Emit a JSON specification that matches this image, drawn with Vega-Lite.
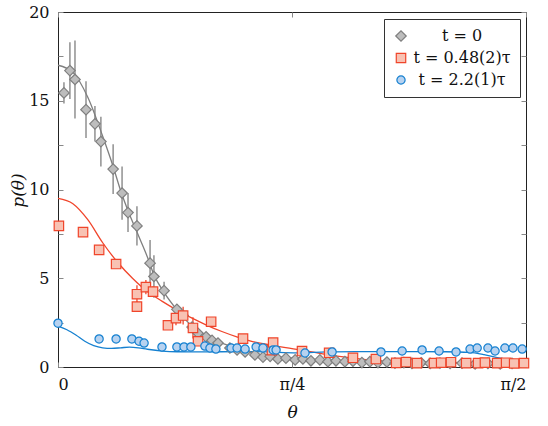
{
  "$schema": "https://vega.github.io/schema/vega-lite/v6.json",
  "width": 468,
  "height": 355,
  "autosize": {"type": "none"},
  "padding": {"left": 58, "top": 12, "right": 22, "bottom": 59},
  "background": "white",
  "config": {
    "view": {"stroke": "#222", "strokeWidth": 1},
    "font": "DejaVu Serif",
    "axis": {
      "domain": false,
      "grid": false,
      "tickColor": "#888",
      "tickWidth": 1,
      "labelFont": "DejaVu Serif",
      "labelFontSize": 16,
      "labelColor": "#111",
      "titleFont": "DejaVu Serif",
      "titleFontSize": 17,
      "titleFontWeight": "normal",
      "titleFontStyle": "italic",
      "titleColor": "#111"
    },
    "legend": {
      "labelFont": "DejaVu Serif",
      "labelFontSize": 16
    }
  },
  "datasets": {
    "pts": [
      {"s": "t = 0", "th": 0.020, "p": 15.44, "e": 0.6},
      {"s": "t = 0", "th": 0.040, "p": 16.7, "e": 1.6},
      {"s": "t = 0", "th": 0.057, "p": 16.2, "e": 2.2},
      {"s": "t = 0", "th": 0.094, "p": 14.5, "e": 1.6},
      {"s": "t = 0", "th": 0.124, "p": 13.7, "e": 1.0},
      {"s": "t = 0", "th": 0.144, "p": 12.7, "e": 1.4},
      {"s": "t = 0", "th": 0.185, "p": 11.15, "e": 1.4},
      {"s": "t = 0", "th": 0.215, "p": 9.8, "e": 1.5},
      {"s": "t = 0", "th": 0.235, "p": 8.7, "e": 1.1},
      {"s": "t = 0", "th": 0.265, "p": 7.95, "e": 1.1},
      {"s": "t = 0", "th": 0.309, "p": 5.85, "e": 1.3},
      {"s": "t = 0", "th": 0.322, "p": 5.1, "e": 1.2},
      {"s": "t = 0", "th": 0.356, "p": 4.3, "e": 0.5},
      {"s": "t = 0", "th": 0.399, "p": 3.25, "e": 0.3},
      {"s": "t = 0", "th": 0.420, "p": 2.9, "e": 0.2},
      {"s": "t = 0", "th": 0.450, "p": 2.25, "e": 0.2},
      {"s": "t = 0", "th": 0.470, "p": 1.9, "e": 0.15},
      {"s": "t = 0", "th": 0.497, "p": 1.7, "e": 0},
      {"s": "t = 0", "th": 0.517, "p": 1.5, "e": 0},
      {"s": "t = 0", "th": 0.537, "p": 1.35, "e": 0},
      {"s": "t = 0", "th": 0.577, "p": 1.07, "e": 0},
      {"s": "t = 0", "th": 0.601, "p": 0.96, "e": 0},
      {"s": "t = 0", "th": 0.628, "p": 0.85, "e": 0},
      {"s": "t = 0", "th": 0.661, "p": 0.68, "e": 0},
      {"s": "t = 0", "th": 0.688, "p": 0.56, "e": 0},
      {"s": "t = 0", "th": 0.712, "p": 0.6, "e": 0},
      {"s": "t = 0", "th": 0.738, "p": 0.45, "e": 0},
      {"s": "t = 0", "th": 0.765, "p": 0.5, "e": 0},
      {"s": "t = 0", "th": 0.796, "p": 0.4, "e": 0},
      {"s": "t = 0", "th": 0.822, "p": 0.45, "e": 0},
      {"s": "t = 0", "th": 0.849, "p": 0.35, "e": 0},
      {"s": "t = 0", "th": 0.879, "p": 0.4, "e": 0},
      {"s": "t = 0", "th": 0.906, "p": 0.3, "e": 0},
      {"s": "t = 0", "th": 0.933, "p": 0.35, "e": 0},
      {"s": "t = 0", "th": 0.963, "p": 0.3, "e": 0},
      {"s": "t = 0", "th": 0.990, "p": 0.33, "e": 0},
      {"s": "t = 0", "th": 1.020, "p": 0.25, "e": 0},
      {"s": "t = 0", "th": 1.047, "p": 0.3, "e": 0},
      {"s": "t = 0", "th": 1.074, "p": 0.25, "e": 0},
      {"s": "t = 0", "th": 1.104, "p": 0.28, "e": 0},
      {"s": "t = 0", "th": 1.131, "p": 0.22, "e": 0},
      {"s": "t = 0", "th": 1.161, "p": 0.25, "e": 0},
      {"s": "t = 0", "th": 1.188, "p": 0.2, "e": 0},
      {"s": "t = 0", "th": 1.219, "p": 0.24, "e": 0},
      {"s": "t = 0", "th": 1.249, "p": 0.2, "e": 0},
      {"s": "t = 0", "th": 1.282, "p": 0.22, "e": 0},
      {"s": "t = 0", "th": 1.316, "p": 0.2, "e": 0},
      {"s": "t = 0", "th": 1.356, "p": 0.22, "e": 0},
      {"s": "t = 0", "th": 1.400, "p": 0.18, "e": 0},
      {"s": "t = 0", "th": 1.443, "p": 0.2, "e": 0},
      {"s": "t = 0", "th": 1.484, "p": 0.18, "e": 0},
      {"s": "t = 0", "th": 1.524, "p": 0.2, "e": 0},

      {"s": "t = 0.48(2)τ", "th": 0.003, "p": 7.95, "e": 0},
      {"s": "t = 0.48(2)τ", "th": 0.084, "p": 7.6, "e": 0},
      {"s": "t = 0.48(2)τ", "th": 0.138, "p": 6.6, "e": 0},
      {"s": "t = 0.48(2)τ", "th": 0.195, "p": 5.8, "e": 0},
      {"s": "t = 0.48(2)τ", "th": 0.265, "p": 4.1, "e": 0.5},
      {"s": "t = 0.48(2)τ", "th": 0.265, "p": 3.4, "e": 0.3},
      {"s": "t = 0.48(2)τ", "th": 0.295, "p": 4.5, "e": 0.4},
      {"s": "t = 0.48(2)τ", "th": 0.319, "p": 4.25, "e": 0.3},
      {"s": "t = 0.48(2)τ", "th": 0.369, "p": 2.35, "e": 0.2},
      {"s": "t = 0.48(2)τ", "th": 0.396, "p": 2.75, "e": 0.4},
      {"s": "t = 0.48(2)τ", "th": 0.420, "p": 2.9, "e": 0.5},
      {"s": "t = 0.48(2)τ", "th": 0.453, "p": 2.2, "e": 0.6},
      {"s": "t = 0.48(2)τ", "th": 0.470, "p": 1.45, "e": 0.2},
      {"s": "t = 0.48(2)τ", "th": 0.514, "p": 2.55, "e": 0.2},
      {"s": "t = 0.48(2)τ", "th": 0.621, "p": 1.6, "e": 0.2},
      {"s": "t = 0.48(2)τ", "th": 0.718, "p": 0.95, "e": 0},
      {"s": "t = 0.48(2)τ", "th": 0.722, "p": 1.38, "e": 0.2},
      {"s": "t = 0.48(2)τ", "th": 0.819, "p": 0.9, "e": 0},
      {"s": "t = 0.48(2)τ", "th": 0.910, "p": 0.8, "e": 0},
      {"s": "t = 0.48(2)τ", "th": 0.990, "p": 0.52, "e": 0},
      {"s": "t = 0.48(2)τ", "th": 1.067, "p": 0.45, "e": 0},
      {"s": "t = 0.48(2)τ", "th": 1.135, "p": 0.23, "e": 0},
      {"s": "t = 0.48(2)τ", "th": 1.168, "p": 0.28, "e": 0},
      {"s": "t = 0.48(2)τ", "th": 1.205, "p": 0.22, "e": 0},
      {"s": "t = 0.48(2)τ", "th": 1.262, "p": 0.22, "e": 0},
      {"s": "t = 0.48(2)τ", "th": 1.286, "p": 0.24, "e": 0},
      {"s": "t = 0.48(2)τ", "th": 1.319, "p": 0.27, "e": 0},
      {"s": "t = 0.48(2)τ", "th": 1.370, "p": 0.22, "e": 0},
      {"s": "t = 0.48(2)τ", "th": 1.410, "p": 0.22, "e": 0},
      {"s": "t = 0.48(2)τ", "th": 1.433, "p": 0.25, "e": 0},
      {"s": "t = 0.48(2)τ", "th": 1.474, "p": 0.22, "e": 0},
      {"s": "t = 0.48(2)τ", "th": 1.504, "p": 0.24, "e": 0},
      {"s": "t = 0.48(2)τ", "th": 1.531, "p": 0.2, "e": 0},
      {"s": "t = 0.48(2)τ", "th": 1.564, "p": 0.22, "e": 0},

      {"s": "t = 2.2(1)τ", "th": 0.0, "p": 2.47, "e": 0},
      {"s": "t = 2.2(1)τ", "th": 0.138, "p": 1.58, "e": 0},
      {"s": "t = 2.2(1)τ", "th": 0.195, "p": 1.58, "e": 0},
      {"s": "t = 2.2(1)τ", "th": 0.248, "p": 1.58, "e": 0},
      {"s": "t = 2.2(1)τ", "th": 0.272, "p": 1.45, "e": 0},
      {"s": "t = 2.2(1)τ", "th": 0.289, "p": 1.35, "e": 0},
      {"s": "t = 2.2(1)τ", "th": 0.349, "p": 1.13, "e": 0},
      {"s": "t = 2.2(1)τ", "th": 0.399, "p": 1.13, "e": 0},
      {"s": "t = 2.2(1)τ", "th": 0.423, "p": 1.13, "e": 0},
      {"s": "t = 2.2(1)τ", "th": 0.446, "p": 1.13, "e": 0},
      {"s": "t = 2.2(1)τ", "th": 0.493, "p": 1.18, "e": 0},
      {"s": "t = 2.2(1)τ", "th": 0.510, "p": 1.07, "e": 0},
      {"s": "t = 2.2(1)τ", "th": 0.530, "p": 1.01, "e": 0},
      {"s": "t = 2.2(1)τ", "th": 0.581, "p": 1.07, "e": 0},
      {"s": "t = 2.2(1)τ", "th": 0.601, "p": 1.07, "e": 0},
      {"s": "t = 2.2(1)τ", "th": 0.628, "p": 1.01, "e": 0},
      {"s": "t = 2.2(1)τ", "th": 0.665, "p": 1.13, "e": 0},
      {"s": "t = 2.2(1)τ", "th": 0.688, "p": 1.07, "e": 0},
      {"s": "t = 2.2(1)τ", "th": 0.722, "p": 0.96, "e": 0},
      {"s": "t = 2.2(1)τ", "th": 0.732, "p": 0.96, "e": 0},
      {"s": "t = 2.2(1)τ", "th": 0.829, "p": 0.79, "e": 0},
      {"s": "t = 2.2(1)τ", "th": 0.920, "p": 0.85, "e": 0},
      {"s": "t = 2.2(1)τ", "th": 1.084, "p": 0.85, "e": 0},
      {"s": "t = 2.2(1)τ", "th": 1.155, "p": 0.9, "e": 0},
      {"s": "t = 2.2(1)τ", "th": 1.222, "p": 0.96, "e": 0},
      {"s": "t = 2.2(1)τ", "th": 1.279, "p": 0.9, "e": 0},
      {"s": "t = 2.2(1)τ", "th": 1.336, "p": 0.85, "e": 0},
      {"s": "t = 2.2(1)τ", "th": 1.383, "p": 1.01, "e": 0},
      {"s": "t = 2.2(1)τ", "th": 1.407, "p": 1.07, "e": 0},
      {"s": "t = 2.2(1)τ", "th": 1.443, "p": 1.07, "e": 0},
      {"s": "t = 2.2(1)τ", "th": 1.467, "p": 0.9, "e": 0},
      {"s": "t = 2.2(1)τ", "th": 1.500, "p": 1.07, "e": 0},
      {"s": "t = 2.2(1)τ", "th": 1.527, "p": 1.07, "e": 0},
      {"s": "t = 2.2(1)τ", "th": 1.558, "p": 1.01, "e": 0}
    ],
    "fit": [
      {"s": "t = 0", "th": 0.0, "p": 17.0},
      {"s": "t = 0", "th": 0.05, "p": 16.6},
      {"s": "t = 0", "th": 0.1, "p": 15.2},
      {"s": "t = 0", "th": 0.15, "p": 13.0},
      {"s": "t = 0", "th": 0.185, "p": 11.3},
      {"s": "t = 0", "th": 0.211, "p": 9.9},
      {"s": "t = 0", "th": 0.235, "p": 8.8},
      {"s": "t = 0", "th": 0.265, "p": 7.6},
      {"s": "t = 0", "th": 0.3, "p": 6.2},
      {"s": "t = 0", "th": 0.322, "p": 5.2},
      {"s": "t = 0", "th": 0.356, "p": 4.2},
      {"s": "t = 0", "th": 0.4, "p": 3.2},
      {"s": "t = 0", "th": 0.45, "p": 2.3},
      {"s": "t = 0", "th": 0.5, "p": 1.75},
      {"s": "t = 0", "th": 0.55, "p": 1.35},
      {"s": "t = 0", "th": 0.6, "p": 1.05},
      {"s": "t = 0", "th": 0.65, "p": 0.8},
      {"s": "t = 0", "th": 0.7, "p": 0.65},
      {"s": "t = 0", "th": 0.8, "p": 0.48},
      {"s": "t = 0", "th": 0.9, "p": 0.38},
      {"s": "t = 0", "th": 1.0, "p": 0.32},
      {"s": "t = 0", "th": 1.2, "p": 0.27},
      {"s": "t = 0", "th": 1.4, "p": 0.24},
      {"s": "t = 0", "th": 1.5708, "p": 0.22},

      {"s": "t = 0.48(2)τ", "th": 0.0, "p": 9.5},
      {"s": "t = 0.48(2)τ", "th": 0.05, "p": 9.2},
      {"s": "t = 0.48(2)τ", "th": 0.1, "p": 8.3},
      {"s": "t = 0.48(2)τ", "th": 0.15, "p": 7.0},
      {"s": "t = 0.48(2)τ", "th": 0.2, "p": 5.9},
      {"s": "t = 0.48(2)τ", "th": 0.25, "p": 5.0},
      {"s": "t = 0.48(2)τ", "th": 0.3, "p": 4.25},
      {"s": "t = 0.48(2)τ", "th": 0.35, "p": 3.7},
      {"s": "t = 0.48(2)τ", "th": 0.4, "p": 3.2},
      {"s": "t = 0.48(2)τ", "th": 0.45, "p": 2.75},
      {"s": "t = 0.48(2)τ", "th": 0.5, "p": 2.35},
      {"s": "t = 0.48(2)τ", "th": 0.55, "p": 2.0},
      {"s": "t = 0.48(2)τ", "th": 0.6, "p": 1.7},
      {"s": "t = 0.48(2)τ", "th": 0.65, "p": 1.45},
      {"s": "t = 0.48(2)τ", "th": 0.72, "p": 1.22},
      {"s": "t = 0.48(2)τ", "th": 0.82, "p": 0.95},
      {"s": "t = 0.48(2)τ", "th": 0.91, "p": 0.68},
      {"s": "t = 0.48(2)τ", "th": 0.99, "p": 0.5},
      {"s": "t = 0.48(2)τ", "th": 1.07, "p": 0.35},
      {"s": "t = 0.48(2)τ", "th": 1.15, "p": 0.27},
      {"s": "t = 0.48(2)τ", "th": 1.3, "p": 0.22},
      {"s": "t = 0.48(2)τ", "th": 1.45, "p": 0.2},
      {"s": "t = 0.48(2)τ", "th": 1.5708, "p": 0.2},

      {"s": "t = 2.2(1)τ", "th": 0.0, "p": 2.3},
      {"s": "t = 2.2(1)τ", "th": 0.03, "p": 2.1},
      {"s": "t = 2.2(1)τ", "th": 0.06, "p": 1.8},
      {"s": "t = 2.2(1)τ", "th": 0.09, "p": 1.45},
      {"s": "t = 2.2(1)τ", "th": 0.12, "p": 1.2},
      {"s": "t = 2.2(1)τ", "th": 0.15, "p": 1.08},
      {"s": "t = 2.2(1)τ", "th": 0.18, "p": 1.05},
      {"s": "t = 2.2(1)τ", "th": 0.21, "p": 1.08},
      {"s": "t = 2.2(1)τ", "th": 0.24, "p": 1.12},
      {"s": "t = 2.2(1)τ", "th": 0.27, "p": 1.08},
      {"s": "t = 2.2(1)τ", "th": 0.3, "p": 1.0},
      {"s": "t = 2.2(1)τ", "th": 0.35, "p": 0.9},
      {"s": "t = 2.2(1)τ", "th": 0.4, "p": 0.86},
      {"s": "t = 2.2(1)τ", "th": 0.5, "p": 0.85},
      {"s": "t = 2.2(1)τ", "th": 0.6, "p": 0.87},
      {"s": "t = 2.2(1)τ", "th": 0.7, "p": 0.85},
      {"s": "t = 2.2(1)τ", "th": 0.8, "p": 0.8},
      {"s": "t = 2.2(1)τ", "th": 0.9, "p": 0.85},
      {"s": "t = 2.2(1)τ", "th": 1.0, "p": 0.87},
      {"s": "t = 2.2(1)τ", "th": 1.1, "p": 0.87},
      {"s": "t = 2.2(1)τ", "th": 1.2, "p": 0.87},
      {"s": "t = 2.2(1)τ", "th": 1.3, "p": 0.86},
      {"s": "t = 2.2(1)τ", "th": 1.38, "p": 0.82},
      {"s": "t = 2.2(1)τ", "th": 1.43, "p": 0.7},
      {"s": "t = 2.2(1)τ", "th": 1.48, "p": 0.52},
      {"s": "t = 2.2(1)τ", "th": 1.53, "p": 0.38},
      {"s": "t = 2.2(1)τ", "th": 1.5708, "p": 0.3}
    ]
  },
  "resolve": {"axis": {"x": "independent", "y": "independent"}},
  "layer": [
    {
      "data": {"name": "fit"},
      "mark": {"type": "line", "strokeWidth": 1.3, "interpolate": "monotone"},
      "encoding": {
        "x": {
          "field": "th", "type": "quantitative",
          "scale": {"domain": [0, 1.5708], "nice": false, "zero": false},
          "axis": {"orient": "top", "values": [0, 0.7854, 1.5708], "labels": false, "tickSize": -5, "title": null}
        },
        "y": {
          "field": "p", "type": "quantitative",
          "scale": {"domain": [0, 20], "nice": false},
          "axis": {"orient": "right", "values": [0, 2.5, 5, 7.5, 10, 12.5, 15, 17.5, 20], "labels": false, "tickSize": -5, "title": null}
        },
        "stroke": {
          "field": "s", "type": "nominal", "title": null,
          "scale": {"domain": ["t = 0", "t = 0.48(2)τ", "t = 2.2(1)τ"], "range": ["#7f7f7f", "#f0452b", "#1580d0"]}
        },
        "detail": {"field": "s"}
      }
    },
    {
      "data": {"name": "pts"},
      "transform": [{"filter": "datum.e > 0"}],
      "mark": {"type": "errorbar", "thickness": 1.3},
      "encoding": {
        "x": {"field": "th", "type": "quantitative", "axis": null},
        "y": {"field": "p", "type": "quantitative", "axis": null},
        "yError": {"field": "e"},
        "stroke": {"field": "s", "type": "nominal", "title": null}
      }
    },
    {
      "data": {"name": "pts"},
      "mark": {"type": "point", "filled": false, "strokeWidth": 1.2, "opacity": 1},
      "encoding": {
        "x": {
          "field": "th", "type": "quantitative",
          "axis": {
            "orient": "bottom", "values": [0, 0.7854, 1.5708], "tickSize": -5, "labelPadding": 14,
            "labelExpr": "datum.value < 0.1 ? '0' : (datum.value < 1 ? 'π/4' : 'π/2')",
            "title": "θ", "titleX": 234, "titleY": 45, "titleBaseline": "middle"
          }
        },
        "y": {
          "field": "p", "type": "quantitative",
          "axis": {
            "orient": "left", "values": [0, 2.5, 5, 7.5, 10, 12.5, 15, 17.5, 20], "tickSize": -5, "labelPadding": 14,
            "labelExpr": "datum.value % 5 == 0 ? datum.label : ''",
            "title": "p(θ)", "titleX": -40, "titleY": 178, "titleAngle": -90, "titleBaseline": "middle", "titleAlign": "center"
          }
        },
        "shape": {
          "field": "s", "type": "nominal", "title": null,
          "scale": {"domain": ["t = 0", "t = 0.48(2)τ", "t = 2.2(1)τ"], "range": ["diamond", "square", "circle"]},
          "legend": {
            "orient": "none", "legendX": 326, "legendY": 7,
            "padding": 9, "fillColor": "white", "strokeColor": "#333",
            "labelFont": "DejaVu Serif", "labelFontSize": 16, "labelColor": "#111",
            "labelAlign": "center", "labelOffset": 53,
            "rowPadding": 6, "symbolStrokeWidth": 1.2
          }
        },
        "fill": {
          "field": "s", "type": "nominal", "title": null,
          "scale": {"domain": ["t = 0", "t = 0.48(2)τ", "t = 2.2(1)τ"], "range": ["#bdbdbd", "#f8c2b3", "#b7d2f0"]}
        },
        "stroke": {"field": "s", "type": "nominal", "title": null},
        "size": {
          "field": "s", "type": "nominal", "title": null,
          "scale": {"domain": ["t = 0", "t = 0.48(2)τ", "t = 2.2(1)τ"], "range": [110, 68, 72]}
        }
      }
    }
  ]
}
